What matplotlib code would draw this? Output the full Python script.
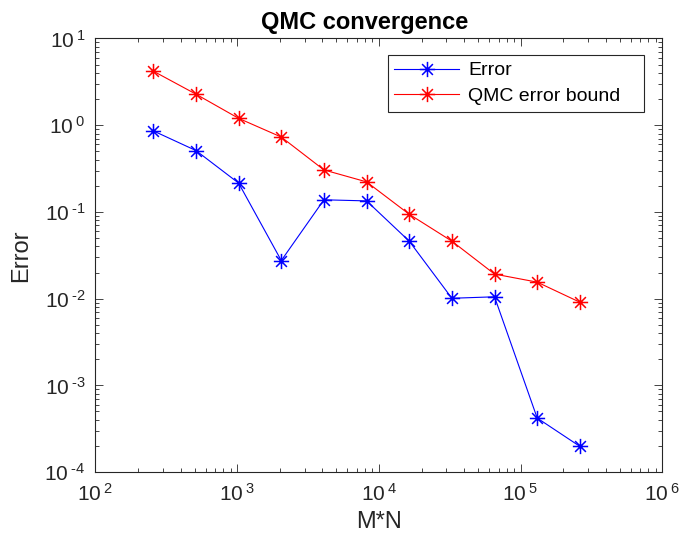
import numpy as np
import matplotlib
matplotlib.use('Agg')
import matplotlib.pyplot as plt
from matplotlib.path import Path
from matplotlib.ticker import FuncFormatter

plt.rcParams['font.family'] = ['Liberation Sans', 'DejaVu Sans']
plt.rcParams['mathtext.fontset'] = 'custom'
plt.rcParams['mathtext.rm'] = 'Liberation Sans'
plt.rcParams['mathtext.it'] = 'Liberation Sans'

# sample sizes M*N
mn = [256, 512, 1024, 2048, 4096, 8192, 16384, 32768, 65536, 131072, 262144]
# observed error
err = [0.86, 0.51, 0.215, 0.0275, 0.138, 0.134, 0.046, 0.0101, 0.0105, 4.2e-4, 1.98e-4]
# QMC error bound
bound = [4.2, 2.28, 1.2, 0.73, 0.305, 0.222, 0.094, 0.046, 0.0192, 0.0155, 0.0091]

# MATLAB-like asterisk marker: + and x overlaid
d = 0.7071
verts = [(-1, 0), (1, 0), (0, -1), (0, 1), (-d, -d), (d, d), (-d, d), (d, -d)]
codes = [Path.MOVETO, Path.LINETO] * 4
asterisk = Path(verts, codes)

fig = plt.figure(figsize=(6.82, 5.42), dpi=100)
ax = fig.add_axes([0.140, 0.129, 0.831, 0.800])

ax.loglog(mn, err, color='blue', marker=asterisk, markersize=11, markerfacecolor='none',
          markeredgewidth=1.1, linewidth=0.8, label='Error')
ax.loglog(mn, bound, color='red', marker=asterisk, markersize=11, markerfacecolor='none',
          markeredgewidth=1.1, linewidth=0.8, label='QMC error bound   ')

ax.set_xlim(1e2, 1e6)
ax.set_ylim(1e-4, 1e1)

fmt = FuncFormatter(lambda v, p: r'$\mathregular{10^{\;\text{%d}}}$' % round(np.log10(v)))
ax.xaxis.set_major_formatter(fmt)
ax.yaxis.set_major_formatter(fmt)

dark = '#262626'
for s in ax.spines.values():
    s.set_color(dark)
    s.set_linewidth(0.8)
ax.tick_params(which='both', direction='in', top=True, right=True, colors=dark,
               labelsize=15, width=0.6)
ax.tick_params(which='major', length=6)
ax.tick_params(which='minor', length=3)
ax.tick_params(axis='x', which='major', pad=8)
ax.tick_params(axis='y', which='major', pad=7)

ax.set_xlabel('M*N', fontsize=17, color=dark, labelpad=4)
ax.set_ylabel('Error', fontsize=17, color=dark, labelpad=9)
ax.set_title('QMC convergence', fontsize=17, fontweight='bold', color='black',
             x=0.475, pad=7)

leg = ax.legend(loc='upper right', bbox_to_anchor=(0.967, 0.962), fontsize=14,
                fancybox=False, framealpha=1, borderaxespad=0, handlelength=3.3,
                borderpad=0.35, labelspacing=0.4, handletextpad=0.5)
leg.get_frame().set_edgecolor(dark)
leg.get_frame().set_linewidth(0.8)

fig.savefig('out.png', dpi=100)
